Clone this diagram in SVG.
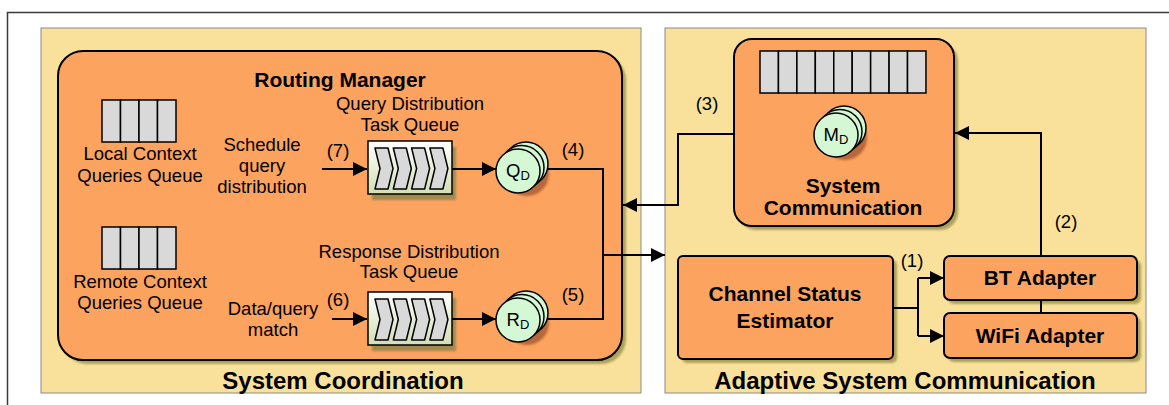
<svg xmlns="http://www.w3.org/2000/svg" xmlns:xlink="http://www.w3.org/1999/xlink" width="1169" height="405" viewBox="0 0 1169 405">
<style>
.frame{fill:none;stroke:#3a3a3a;stroke-width:1.5}
.panel{fill:#F9E19B;stroke:#8a8a8a;stroke-width:1}
.box{fill:#FCA35F;stroke:#000;stroke-width:2}
.shadow{fill:#9E9650;opacity:.85}
.tshadow{fill:#A3884F}
.cell{fill:#D9D9D9;stroke:#000;stroke-width:1.5}
.chev{fill:#D9D9D9;stroke:#000;stroke-width:1.5;stroke-linejoin:round}
.task{fill:url(#taskFill);stroke:#000;stroke-width:1.5}
.disk{fill:#D4F7D4;stroke:#000;stroke-width:1.5}
.t{font-family:"Liberation Sans",Arial,sans-serif;font-size:18.5px;fill:#000;text-anchor:middle}
.b{font-weight:bold;font-size:21px}
.big{font-weight:bold;font-size:24px}
.wire{fill:none;stroke:#000;stroke-width:2}
</style>
<defs>
  <linearGradient id="taskFill" x1="0" y1="0" x2="0" y2="1">
    <stop offset="0" stop-color="#FFFFFF"/>
    <stop offset="1" stop-color="#D2DFB3"/>
  </linearGradient>
  <filter id="soft" x="-10%" y="-10%" width="120%" height="120%">
    <feGaussianBlur stdDeviation="1"/>
  </filter>
  <marker id="ah" markerWidth="14" markerHeight="14" refX="14" refY="7" orient="auto" markerUnits="userSpaceOnUse">
    <path d="M0,0 L14,7 L0,14 Z" fill="#000"/>
  </marker>
  <path id="chevron" class="chev" d="M0,0 H13 L18,20.5 L13,41 H0 L5,20.5 Z"/>
  <g id="stack">
    <circle cx="9" cy="3" r="22" fill="#A0522D" opacity=".75" filter="url(#soft)"/>
    <circle class="disk" cx="8" cy="-7" r="22"/>
    <circle class="disk" cx="4" cy="-3.5" r="22"/>
    <circle class="disk" cx="0" cy="0" r="22"/>
  </g>
  <g id="taskq">
    <rect class="tshadow" x="4" y="6" width="84" height="53" filter="url(#soft)"/>
    <rect class="task" x="0" y="0" width="84" height="53"/>
    <use xlink:href="#chevron" x="7" y="7"/>
    <use xlink:href="#chevron" x="25.3" y="7"/>
    <use xlink:href="#chevron" x="43.6" y="7"/>
    <use xlink:href="#chevron" x="61.9" y="7"/>
  </g>
  <g id="cells4">
    <rect class="cell" x="0" y="0" width="18.5" height="42"/>
    <rect class="cell" x="18.5" y="0" width="18.5" height="42"/>
    <rect class="cell" x="37" y="0" width="18.5" height="42"/>
    <rect class="cell" x="55.5" y="0" width="18.5" height="42"/>
  </g>
</defs>

<rect width="1169" height="405" fill="#fff"/>
<!-- outer frame -->
<path class="frame" d="M7.5,405 V12.5 H1169"/>

<!-- panels -->
<g id="system-coordination">
  <rect class="panel" x="41" y="28" width="600" height="365"/>
  <text class="t big" x="343" y="389">System Coordination</text>
</g>
<g id="adaptive-system-communication">
  <rect class="panel" x="665" y="28" width="481" height="365"/>
  <text class="t big" x="905" y="389">Adaptive System Communication</text>
</g>

<!-- routing manager -->
<g id="routing-manager">
  <rect class="shadow" x="62" y="55" width="564" height="309" rx="25" filter="url(#soft)"/>
  <rect class="box" x="58" y="51" width="564" height="309" rx="25"/>
  <text class="t b" x="340" y="87">Routing Manager</text>
</g>

<g id="local-queue">
  <use xlink:href="#cells4" x="102" y="100"/>
  <text class="t" x="140" y="160">Local Context</text>
  <text class="t" x="140" y="182">Queries Queue</text>
</g>
<g id="remote-queue">
  <use xlink:href="#cells4" x="102" y="227"/>
  <text class="t" x="140" y="288">Remote Context</text>
  <text class="t" x="140" y="309">Queries Queue</text>
</g>

<g id="schedule-label">
  <text class="t" x="262" y="151">Schedule</text>
  <text class="t" x="262" y="172">query</text>
  <text class="t" x="262" y="193">distribution</text>
</g>
<g id="match-label">
  <text class="t" x="273" y="315">Data/query</text>
  <text class="t" x="273" y="336">match</text>
</g>

<g id="query-task-queue">
  <text class="t" x="410" y="110">Query Distribution</text>
  <text class="t" x="410" y="131">Task Queue</text>
  <use xlink:href="#taskq" x="368" y="141"/>
</g>
<g id="response-task-queue">
  <text class="t" x="409" y="258">Response Distribution</text>
  <text class="t" x="409" y="278">Task Queue</text>
  <use xlink:href="#taskq" x="368" y="292"/>
</g>

<g id="qd">
  <use xlink:href="#stack" x="518" y="171"/>
  <text class="t" x="518" y="177">Q<tspan font-size="13" dy="3">D</tspan></text>
</g>
<g id="rd">
  <use xlink:href="#stack" x="518" y="320"/>
  <text class="t" x="518" y="326">R<tspan font-size="13" dy="3">D</tspan></text>
</g>

<!-- system communication -->
<g id="system-communication">
  <rect class="shadow" x="738" y="43" width="220" height="187" rx="18" filter="url(#soft)"/>
  <rect class="box" x="734" y="39" width="220" height="187" rx="18"/>
  <rect class="cell" x="760" y="51" width="18.44" height="42"/>
  <rect class="cell" x="778.44" y="51" width="18.44" height="42"/>
  <rect class="cell" x="796.88" y="51" width="18.44" height="42"/>
  <rect class="cell" x="815.32" y="51" width="18.44" height="42"/>
  <rect class="cell" x="833.76" y="51" width="18.44" height="42"/>
  <rect class="cell" x="852.2" y="51" width="18.44" height="42"/>
  <rect class="cell" x="870.64" y="51" width="18.44" height="42"/>
  <rect class="cell" x="889.08" y="51" width="18.44" height="42"/>
  <rect class="cell" x="907.52" y="51" width="18.44" height="42"/>
  <use xlink:href="#stack" x="836" y="135"/>
  <text class="t" x="836" y="141">M<tspan font-size="13" dy="3">D</tspan></text>
  <text class="t b" x="843" y="193">System</text>
  <text class="t b" x="843" y="215">Communication</text>
</g>

<g id="channel-status-estimator">
  <rect class="shadow" x="682" y="260" width="215" height="103" rx="5" filter="url(#soft)"/>
  <rect class="box" x="678" y="256" width="215" height="103" rx="5"/>
  <text class="t b" x="785" y="301">Channel Status</text>
  <text class="t b" x="785" y="328">Estimator</text>
</g>
<g id="bt-adapter">
  <rect class="shadow" x="948" y="260" width="193" height="44" rx="6" filter="url(#soft)"/>
  <rect class="box" x="944" y="256" width="193" height="44" rx="6"/>
  <text class="t b" x="1040" y="285">BT Adapter</text>
</g>
<g id="wifi-adapter">
  <rect class="shadow" x="948" y="317" width="193" height="45" rx="6" filter="url(#soft)"/>
  <rect class="box" x="944" y="313" width="193" height="45" rx="6"/>
  <text class="t b" x="1040" y="343">WiFi Adapter</text>
</g>

<!-- connectors -->
<g id="connectors">
  <path class="wire" d="M322,169 H367" marker-end="url(#ah)"/>
  <path class="wire" d="M332,319 H367" marker-end="url(#ah)"/>
  <path class="wire" d="M452,169 H496" marker-end="url(#ah)"/>
  <path class="wire" d="M452,319 H496" marker-end="url(#ah)"/>
  <path class="wire" d="M548,169 H603 V319 H548"/>
  <path class="wire" d="M603,255 H665" marker-end="url(#ah)"/>
  <path class="wire" d="M734,134 H678 V205 H623" marker-end="url(#ah)"/>
  <path class="wire" d="M1041,256 V133 H955" marker-end="url(#ah)"/>
  <path class="wire" d="M1041,300 V313"/>
  <path class="wire" d="M893,308 H918 M918,278 V336"/>
  <path class="wire" d="M918,278 H944" marker-end="url(#ah)"/>
  <path class="wire" d="M918,336 H944" marker-end="url(#ah)"/>
  <text class="t" x="338" y="157">(7)</text>
  <text class="t" x="338" y="306">(6)</text>
  <text class="t" x="573" y="156">(4)</text>
  <text class="t" x="573" y="301">(5)</text>
  <text class="t" x="707" y="110">(3)</text>
  <text class="t" x="1066" y="228">(2)</text>
  <text class="t" x="912" y="267">(1)</text>
</g>
</svg>
